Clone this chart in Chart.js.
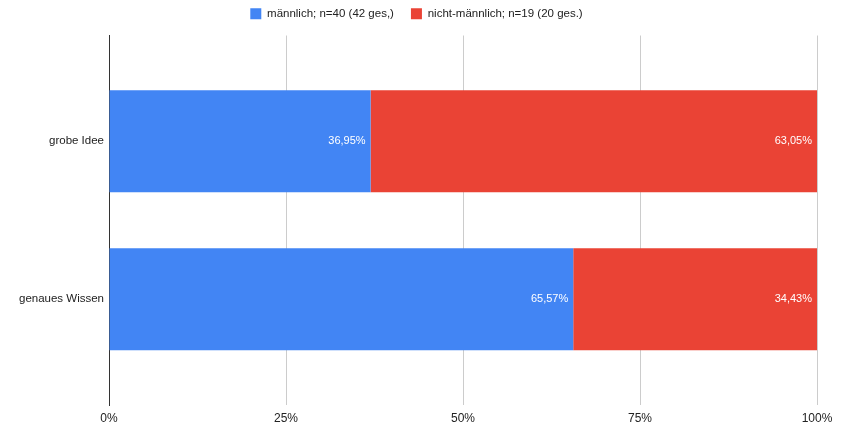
<!DOCTYPE html>
<html>
<head>
<meta charset="utf-8">
<script src="https://cdn.jsdelivr.net/npm/chart.js@4/dist/chart.umd.min.js"></script>
<style>
  html, body { margin: 0; padding: 0; background: #fff; }
  #wrap { width: 842px; height: 423px; }
</style>
</head>
<body>
<div id="wrap"><canvas id="myChart" width="842" height="423"></canvas></div>
<script>
// Kategorien und Werte (Prozent)
const categories = ["grobe Idee", "genaues Wissen"];
const seriesNames = ["männlich; n=40 (42 ges,)", "nicht-männlich; n=19 (20 ges.)"];
const maleValues = [36.95, 65.57];
const otherValues = [63.05, 34.43];
const xTicks = [0, 25, 50, 75, 100];

const blue = "#4285f4";
const red = "#ea4335";

function toPoints(values) {
    // y = Index der Kategorie (lineare Achse, damit die Balken wie im Original sitzen)
    return values.map(function (v, i) { return { x: v, y: i }; });
}

function fmt(v) {
    return v.toFixed(2).replace(".", ",") + "%";
}

// Werte innen rechts in den Balken schreiben
const barLabels = {
    id: "barLabels",
    afterDatasetsDraw(chart) {
        const ctx = chart.ctx;
        ctx.save();
        ctx.font = "11px 'Liberation Sans', Arial, sans-serif";
        ctx.fillStyle = "#ffffff";
        ctx.textAlign = "right";
        ctx.textBaseline = "middle";
        chart.data.datasets.forEach(function (ds, di) {
            const meta = chart.getDatasetMeta(di);
            meta.data.forEach(function (bar, i) {
                ctx.fillText(fmt(ds.data[i].x), bar.x - 5, bar.y);
            });
        });
        ctx.restore();
    }
};

// etwas mehr Platz unter der Legende
const legendSpacer = {
    id: "legendSpacer",
    afterInit(chart) {
        const legend = chart.legend;
        const origFit = legend.fit;
        legend.fit = function () {
            origFit.call(this);
            this.height += 6;
        };
    }
};

const ctx = document.getElementById("myChart").getContext("2d");
window.myChart = new Chart(ctx, {
    type: "bar",
    data: {
        datasets: [
            { label: seriesNames[0], data: toPoints(maleValues), backgroundColor: blue,
              grouped: false, barPercentage: 0.645, categoryPercentage: 1 },
            { label: seriesNames[1], data: toPoints(otherValues), backgroundColor: red,
              grouped: false, barPercentage: 0.645, categoryPercentage: 1 }
        ]
    },
    options: {
        indexAxis: "y",
        responsive: false,
        animation: false,
        layout: { padding: { top: -9, right: 25, left: 16, bottom: 0 } },
        plugins: {
            tooltip: { enabled: false },
            legend: {
                position: "top",
                labels: {
                    boxWidth: 11,
                    boxHeight: 11,
                    padding: 17,
                    color: "#222",
                    font: { family: "'Liberation Sans', Arial, sans-serif", size: 11.5 }
                }
            }
        },
        scales: {
            x: {
                type: "linear",
                stacked: true,
                min: 0,
                max: 100,
                afterBuildTicks: function (scale) {
                    scale.ticks = xTicks.map(function (v) { return { value: v }; });
                },
                afterFit: function (scale) { scale.height = 18; },
                grid: { color: "#cccccc", drawTicks: false },
                border: { display: false },
                ticks: {
                    padding: 6,
                    color: "#222",
                    font: { family: "'Liberation Sans', Arial, sans-serif", size: 12 },
                    callback: function (v) { return v + "%"; }
                }
            },
            y: {
                type: "linear",
                reverse: true,
                offset: false,
                min: -0.67,
                max: 1.67,
                afterBuildTicks: function (scale) {
                    scale.ticks = categories.map(function (c, i) { return { value: i }; });
                },
                afterFit: function (scale) { scale.width = 93; },
                grid: { display: false, drawTicks: false, offset: false },
                border: { display: true, color: "#333333", width: 1 },
                ticks: {
                    padding: 5,
                    color: "#222",
                    font: { family: "'Liberation Sans', Arial, sans-serif", size: 11.5 },
                    callback: function (v) { return categories[v] !== undefined ? categories[v] : ""; }
                }
            }
        }
    },
    plugins: [barLabels, legendSpacer]
});
</script>
</body>
</html>
